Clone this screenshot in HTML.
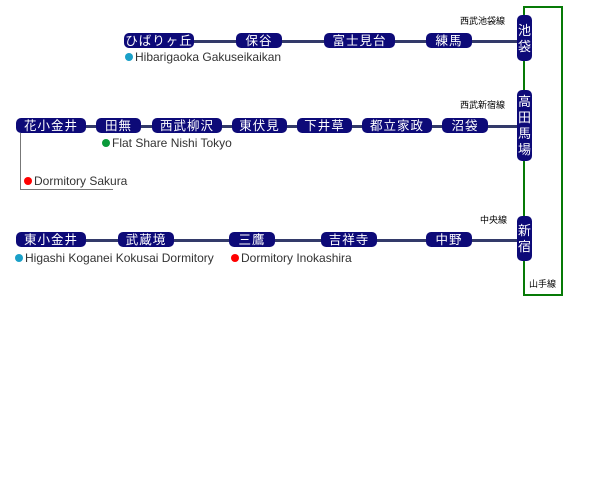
<!DOCTYPE html>
<html><head><meta charset="utf-8"><style>
body{margin:0;width:600px;height:501px;background:#fff;position:relative;overflow:hidden;font-family:"Liberation Sans","Noto Sans CJK JP",sans-serif}
.s{position:absolute;background:#0d0a78;color:#fff;border-radius:5px;height:15px;line-height:16px;font-size:12.5px;text-align:center;letter-spacing:1px}
.v{position:absolute;background:#0d0a78;color:#fff;border-radius:5px;width:15px;font-size:13px;text-align:center;line-height:16px;display:flex;flex-direction:column;justify-content:center;padding-top:1px;box-sizing:border-box}
.l{position:absolute;height:3px;background:#333a6a}
.t{position:absolute;font-size:9px;color:#000;white-space:nowrap}
.d{position:absolute;font-size:12px;color:#333;white-space:nowrap;line-height:13px}
.d i{display:inline-block;width:8px;height:8px;border-radius:50%;margin-right:2px;vertical-align:0}
</style></head><body>
<div style="position:absolute;left:523px;top:6px;width:36px;height:286px;border:2px solid #077a07"></div>
<div class="l" style="left:194px;top:40px;width:324px"></div>
<div class="l" style="left:20px;top:125px;width:498px"></div>
<div class="l" style="left:20px;top:239px;width:498px"></div>
<div class="s" style="left:124px;top:33px;width:70px">ひばりヶ丘</div>
<div class="s" style="left:236px;top:33px;width:46px">保谷</div>
<div class="s" style="left:324px;top:33px;width:71px">富士見台</div>
<div class="s" style="left:426px;top:33px;width:46px">練馬</div>
<div class="s" style="left:16px;top:118px;width:70px">花小金井</div>
<div class="s" style="left:96px;top:118px;width:45px">田無</div>
<div class="s" style="left:152px;top:118px;width:70px">西武柳沢</div>
<div class="s" style="left:232px;top:118px;width:55px">東伏見</div>
<div class="s" style="left:297px;top:118px;width:55px">下井草</div>
<div class="s" style="left:362px;top:118px;width:70px">都立家政</div>
<div class="s" style="left:442px;top:118px;width:46px">沼袋</div>
<div class="s" style="left:16px;top:232px;width:70px">東小金井</div>
<div class="s" style="left:118px;top:232px;width:56px">武蔵境</div>
<div class="s" style="left:229px;top:232px;width:46px">三鷹</div>
<div class="s" style="left:321px;top:232px;width:56px">吉祥寺</div>
<div class="s" style="left:426px;top:232px;width:46px">中野</div>
<div class="v" style="left:517px;top:15px;height:46px">池<br>袋</div>
<div class="v" style="left:517px;top:90px;height:71px">高<br>田<br>馬<br>場</div>
<div class="v" style="left:517px;top:216px;height:45px">新<br>宿</div>
<div class="t" style="left:460px;top:14px">西武池袋線</div>
<div class="t" style="left:460px;top:98px">西武新宿線</div>
<div class="t" style="left:480px;top:213px">中央線</div>
<div class="t" style="left:529px;top:277px">山手線</div>
<div class="d" style="left:125px;top:51px"><i style="background:#1aa0c8"></i>Hibarigaoka Gakuseikaikan</div>
<div class="d" style="left:102px;top:137px"><i style="background:#0a9a3a"></i>Flat Share Nishi Tokyo</div>
<div style="position:absolute;left:20px;top:133px;width:92px;height:56px;border-left:1px solid #777;border-bottom:1px solid #777"></div>
<div class="d" style="left:24px;top:175px"><i style="background:#f00"></i>Dormitory Sakura</div>
<div class="d" style="left:15px;top:252px"><i style="background:#1aa0c8"></i>Higashi Koganei Kokusai Dormitory</div>
<div class="d" style="left:231px;top:252px"><i style="background:#f00"></i>Dormitory Inokashira</div>
</body></html>
